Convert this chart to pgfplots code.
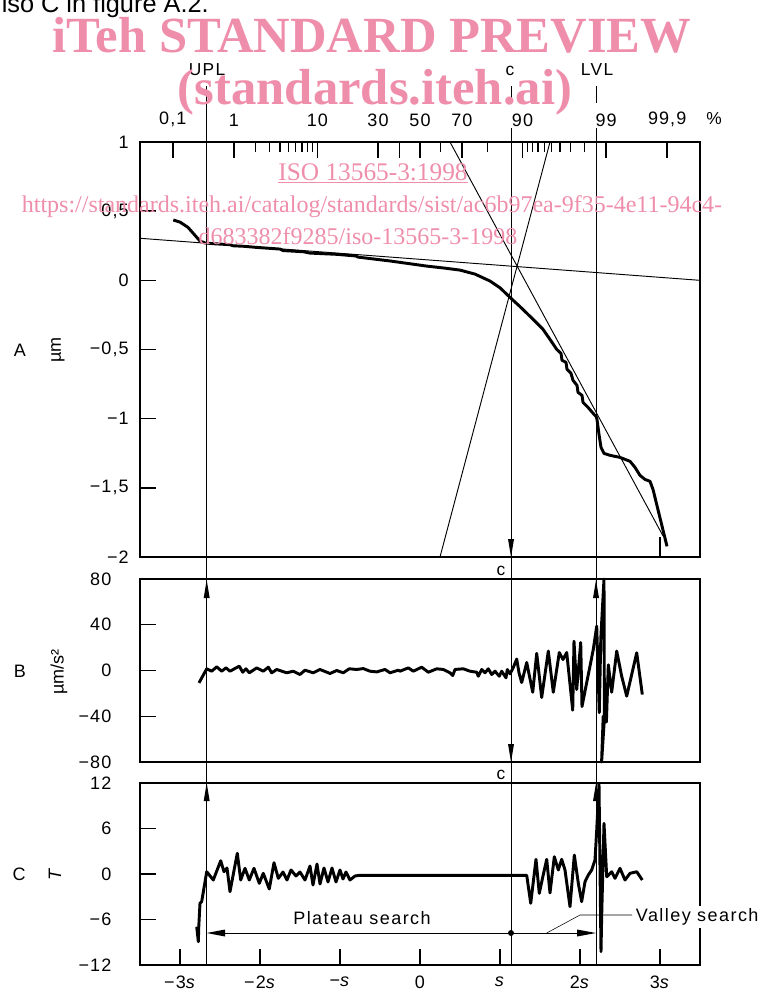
\documentclass[border=0pt]{standalone}
\usepackage{fontspec}
\setmainfont{Liberation Sans}
\newfontfamily\wmfont{Liberation Serif}
\newfontfamily\tickfont{Liberation Sans}[LetterSpace=6]
\newfontfamily\lblfont{Liberation Sans}[LetterSpace=8]
\usepackage{pgfplots}
\pgfplotsset{compat=1.18}
\usetikzlibrary{arrows.meta}
\definecolor{wm}{RGB}{239,142,171}

\pgfplotsset{
  panel/.style={
    scale only axis, width=420pt, xmin=-3.5, xmax=3.5,
    anchor=north west,
    axis line style={line width=1.4pt},
    every tick/.style={black, line width=1.1pt},
    tick align=inside,
    major tick length=12pt, minor tick length=7.5pt,
    ytick pos=left,
    clip=false,
    tick label style={font=\tickfont\fontsize{13.5}{15}\selectfont},
  },
  curve/.style={line width=2.2pt, line join=round},
  thin/.style={line width=0.7pt},
}

\begin{document}
\begin{tikzpicture}
\path[use as bounding box] (0pt,0pt) rectangle (575.25pt,-744pt);

% A: profile height against normal quantile
\begin{axis}[panel, at={(105pt,-106.5pt)}, height=311.25pt,
  ymin=-2, ymax=1,
  ytick={-2,-1.5,-1,-0.5,0,0.5,1},
  yticklabels={−2,{−1,5},−1,{−0,5},0,{0,5},1},
  yticklabel style={xshift=-5pt},
  xtick pos=upper, xticklabel pos=upper,
  xtick={-3.0902,-2.3263,-1.2816,-0.5244,-0.2533,0,0.5244,1.2816,2.3263,3.0902},
  xticklabels={{0,1},1,10,30,,50,70,90,99,{99,9}},
  minor xtick={-2.0537,-1.8808,-1.7507,-1.6449,-1.5548,-1.4758,-1.4051,-1.3408,
               0.2533,0.8416,1.3408,1.4051,1.4758,1.5548,1.6449,1.7507,1.8808,2.0537},
  xticklabel style={yshift=8pt},
]
\addplot[curve] coordinates {
  (-3.084,0.436) (-3.0,0.421) (-2.9,0.383) (-2.75,0.284) (-2.6875,0.270)
  (-2.5625,0.264) (-2.375,0.258) (-2.34,0.250) (-2.2,0.246) (-2.041,0.238)
  (-1.75,0.226) (-1.71,0.215) (-1.4625,0.207) (-1.375,0.197) (-1.041,0.188)
  (-0.8,0.176) (-0.775,0.168) (-0.375,0.140) (0.084,0.103) (0.3125,0.088)
  (0.5,0.074) (0.6875,0.045) (0.875,-0.005) (1.0,-0.054) (1.125,-0.123)
  (1.25,-0.19) (1.375,-0.26) (1.5375,-0.354) (1.625,-0.427) (1.709,-0.499)
  (1.7625,-0.528) (1.775,-0.578) (1.825,-0.593) (1.8375,-0.643) (1.8875,-0.672)
  (1.9125,-0.723) (1.9625,-0.759) (1.975,-0.810) (2.025,-0.831) (2.0375,-0.882)
  (2.1,-0.918) (2.175,-0.969) (2.2,-0.983) (2.2125,-1.005) (2.2375,-1.113)
  (2.2625,-1.207) (2.3,-1.251) (2.375,-1.265) (2.5,-1.280) (2.625,-1.308)
  (2.6875,-1.352) (2.75,-1.410) (2.8125,-1.439) (2.875,-1.453) (2.9125,-1.511)
  (3.0875,-1.923)
};
\addplot[curve] coordinates {(3.0,-1.858) (3.0,-2.0)};
\addplot[thin] coordinates {(-3.5,0.304) (3.5,0.0)};
\addplot[thin] coordinates {(0.375,1) (3.04,-1.85)};
\addplot[thin] coordinates {(0.25,-2) (1.625,1)};
\end{axis}

% B: second derivative
\begin{axis}[panel, at={(105pt,-434.25pt)}, height=137.25pt,
  ymin=-80, ymax=80, ytick={-80,-40,0,40,80},
  yticklabels={−80,−40,0,40,80},
  yticklabel style={xshift=-18pt},
  xtick=\empty,
]
\addplot[curve] coordinates {
  (-2.7625,-10.8) (-2.666,1.5) (-2.604,-0.6) (-2.541,3.2) (-2.479,-0.6)
  (-2.425,2.3) (-2.375,-0.6) (-2.259,3.8) (-2.216,-1.5) (-2.175,1.5)
  (-2.134,-2.0) (-2.041,2.3) (-1.959,-0.6) (-1.896,2.9) (-1.854,-2.0)
  (-1.791,0.9) (-1.666,-2.0) (-1.584,-0.6) (-1.5,-3.5) (-1.4375,0.3)
  (-1.334,-2.0) (-1.25,0.9) (-1.125,-2.6) (-1.041,0.0) (-0.959,-2.0)
  (-0.884,1.5) (-0.791,0.9) (-0.709,1.7) (-0.625,-0.6) (-0.541,-1.2)
  (-0.4375,0.9) (-0.375,-2.0) (-0.271,0.3) (-0.25,-0.6) (-0.146,2.3)
  (-0.084,-0.6) (0.021,2.9) (0.104,-1.5) (0.209,1.5) (0.291,0.9)
  (0.375,-2.0) (0.409,-4.4) (0.4375,0.9) (0.541,1.5) (0.625,-0.6)
  (0.709,-1.5) (0.729,-5.0) (0.771,0.9) (0.8125,-2.0) (0.854,1.5)
  (0.896,-3.5) (0.9375,-0.6) (0.991,-5.0) (1.021,-0.6) (1.075,-6.4)
  (1.091,0.9) (1.125,-2.9) (1.1625,2.0) (1.209,10.0) (1.2375,-2.0)
  (1.271,-10.5) (1.334,7.0) (1.409,-19.0) (1.459,15.0) (1.521,-23.6)
  (1.604,17.0) (1.666,-19.0) (1.741,15.7) (1.7875,9.6) (1.834,15.7)
  (1.909,-34.7) (1.925,25.6) (1.959,-16.6) (2.009,24.5) (2.025,-31.5)
  (2.075,-13.7) (2.125,3.8) (2.166,18.4) (2.209,38.8) (2.241,-36.8)
  (2.26,28) (2.30,80) (2.305,-42) (2.27,-80) (2.29,-40) (2.33,-45)
  (2.354,5) (2.396,-19) (2.459,17) (2.521,-5) (2.584,-22.4)
  (2.709,15.5) (2.779,-21)
};
\end{axis}

% C: plateau and valley search statistic
\begin{axis}[panel, at={(105pt,-587.25pt)}, height=136.5pt,
  ymin=-12, ymax=12, ytick={-12,-6,0,6,12},
  yticklabels={−12,−6,0,6,12},
  yticklabel style={xshift=-18pt},
  xtick={-3,-2,-1,0,1,2,3}, xtick pos=lower,
  xticklabels={−3\textit{s},−2\textit{s},−\textit{s},0,\textit{s},2\textit{s},3\textit{s}},
  xticklabel style={yshift=-5pt},
]
\addplot[curve] coordinates {
  (-2.791,-6.95) (-2.771,-8.93) (-2.765,-6.86) (-2.75,-3.86) (-2.729,-3.65)
  (-2.666,0.30) (-2.584,-0.79) (-2.491,1.75) (-2.45,0.30) (-2.4125,0.79)
  (-2.375,-2.33) (-2.284,2.73) (-2.241,-0.79) (-2.1875,0.75) (-2.134,-0.79)
  (-2.075,0.75) (-2.009,-1.23) (-1.959,0.09) (-1.884,-1.98) (-1.825,1.49)
  (-1.771,-0.57) (-1.7125,0.26) (-1.6625,-0.79) (-1.6125,0.53) (-1.55,-0.26)
  (-1.5,0.26) (-1.4375,-0.79) (-1.375,1.05) (-1.3375,-1.45) (-1.2875,1.32)
  (-1.25,-1.32) (-1.2,0.79) (-1.15,-1.05) (-1.1,0.79) (-1.05,-1.05)
  (-1.0,0.53) (-0.9625,-0.66) (-0.925,0.26) (-0.875,-0.79) (-0.8125,-0.26)
  (-0.75,-0.17) (1.334,-0.17) (1.384,-3.86) (1.45,1.94) (1.491,-2.55)
  (1.5375,-0.26) (1.584,1.94) (1.625,-2.5) (1.679,2.28) (1.729,0.53)
  (1.771,1.94) (1.8125,0.53) (1.875,-4.31) (1.929,2.5) (1.979,-1.23)
  (2.021,-3.65) (2.0625,-1.02) (2.104,-0.13) (2.146,0.53) (2.1875,1.85)
  (2.209,5.80) (2.2375,11.96) (2.2625,-10.25) (2.271,-5.63) (2.3,6.69)
  (2.334,-0.36) (2.396,0.30) (2.4375,-0.57) (2.5,0.75) (2.5625,-0.79)
  (2.625,0.09) (2.709,0.30) (2.779,-0.79)
};
\end{axis}

\begin{scope}[x=0.75pt, y=-0.75pt]
  % top-left cut text
  \node[anchor=base west, inner sep=0pt, font=\fontsize{19}{22}\selectfont] at (1.5,12.5) {lso C in figure A.2.};
  % reference lines UPL, c, LVL
  \draw[thin] (206.7,86) -- (206.7,965);
  \draw[thin] (511,86) -- (511,103) (511,128) -- (511,965);
  \draw[thin] (596,86) -- (596,103) (596,128) -- (596,965);
  \foreach \xx in {206.7,596} {
    \fill (\xx,580) -- (\xx-3,598) -- (\xx+3,598) -- cycle;
    \fill (\xx,783) -- (\xx-3,801) -- (\xx+3,801) -- cycle;
  }
  \fill (511,557) -- (508,539) -- (514,539) -- cycle;
  \fill (511,762) -- (508,744) -- (514,744) -- cycle;
  \begin{scope}[every node/.style={font=\lblfont\fontsize{13}{15}\selectfont, inner sep=0pt}]
    \node[anchor=base] at (207,75) {UPL};
    \node[anchor=base] at (510,75) {c};
    \node[anchor=base] at (597,75) {LVL};
    \node[anchor=base] at (501,575) {c};
    \node[anchor=base] at (501,779) {c};
    \node at (714,119) {\%};
  \end{scope}
  % panel labels
  \begin{scope}[every node/.style={font=\fontsize{13.5}{15}\selectfont, inner sep=0pt}]
    \node at (20,350) {A};
    \node[rotate=90] at (58,350) {µm};
    \node at (20,671) {B};
    \node[rotate=90] at (59,672) {µm/s²};
    \node at (19,874) {C};
    \node[rotate=90] at (55,874) {\textit{T}};
  \end{scope}
  % plateau / valley search
  \draw[thin] (225,933) -- (577,933);
  \fill (206.7,933) -- (225,929.5) -- (225,936.5) -- cycle;
  \fill (596,933) -- (577,929.5) -- (577,936.5) -- cycle;
  \fill (511,933) circle[radius=3];
  \node[font=\lblfont\fontsize{13.5}{15}\selectfont] at (362,918) {Plateau search};
  \draw[thin] (546.7,933) -- (580,915) -- (632,915);
  \node[anchor=west, fill=white, inner sep=2pt, font=\lblfont\fontsize{13.5}{15}\selectfont] at (633,917) {Valley search};
  % watermark
  \begin{scope}[every node/.style={text=wm, anchor=base, inner sep=0pt}]
    \node[font=\wmfont\bfseries\fontsize{38}{40}\selectfont] at (372,52) {iTeh STANDARD PREVIEW};
    \node[font=\wmfont\bfseries\fontsize{38}{40}\selectfont] at (375,104) {(standards.iteh.ai)};
    \node[font=\wmfont\fontsize{19}{22}\selectfont] at (373,180) {\underline{ISO 13565-3:1998}};
    \node[font=\wmfont\fontsize{18}{20}\selectfont] at (372,212) {https://standards.iteh.ai/catalog/standards/sist/ac6b97ea-9f35-4e11-94c4-};
    \node[font=\wmfont\fontsize{18}{20}\selectfont] at (358,244) {d683382f9285/iso-13565-3-1998};
  \end{scope}
\end{scope}
\end{tikzpicture}
\end{document}
